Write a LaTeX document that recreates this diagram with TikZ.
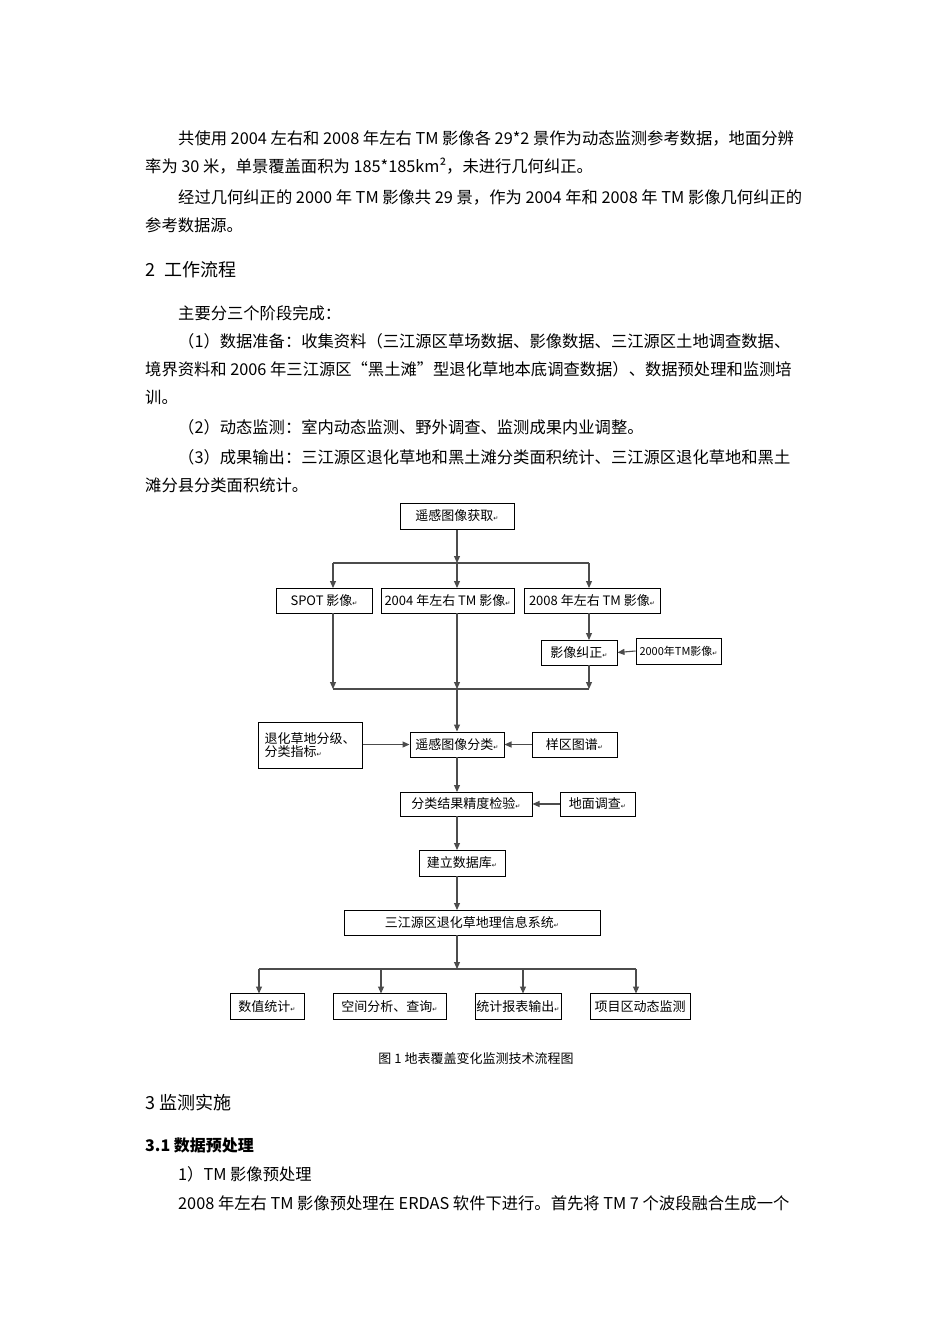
\documentclass[tikz,border=0pt]{standalone}
\usepackage{fontspec}
\setmainfont{Noto Sans CJK SC}
\newfontfamily\djfont{DejaVu Sans}
\usetikzlibrary{arrows.meta}
\newcommand{\rt}{{\djfont\fontsize{6}{6}\selectfont ↵}}
\begin{document}
\begin{tikzpicture}[x=1pt,y=-1pt,
  tl/.style={anchor=west,inner sep=0pt,font=\fontsize{16.3}{16.3}\selectfont},
  bx/.style={draw,line width=1pt,inner sep=0pt,font=\fontsize{13}{13}\selectfont},
  ln/.style={draw=black!70,line width=1.1pt},
  ar/.style={ln,-{Triangle[length=7pt,width=6pt]}}]
\useasboundingbox[fill=white] (0,0) rectangle (950,1344);
% body text
\node[tl] (t1) at (178,138) {共使用 2004 左右和 2008 年左右 TM 影像各 29*2 景作为动态监测参考数据，地面分辨};
\node[tl] (t2) at (145,166) {率为 30 米，单景覆盖面积为 185*185km²，未进行几何纠正。};
\node[tl] (t3) at (178,197) {经过几何纠正的 2000 年 TM 影像共 29 景，作为 2004 年和 2008 年 TM 影像几何纠正的};
\node[tl] (t4) at (145,225) {参考数据源。};
\node[tl,font=\fontsize{18}{18}\selectfont] (h2) at (145,270) {2\enspace 工作流程};
\node[tl] (t5) at (178,313) {主要分三个阶段完成：};
\node[tl] (t6) at (178,341) {（1）数据准备：收集资料（三江源区草场数据、影像数据、三江源区土地调查数据、};
\node[tl] (t7) at (145,369) {境界资料和 2006 年三江源区“黑土滩”型退化草地本底调查数据）、数据预处理和监测培};
\node[tl] (t8) at (145,397) {训。};
\node[tl] (t9) at (178,427) {（2）动态监测：室内动态监测、野外调查、监测成果内业调整。};
\node[tl] (t10) at (178,457) {（3）成果输出：三江源区退化草地和黑土滩分类面积统计、三江源区退化草地和黑土};
\node[tl] (t11) at (145,485) {滩分县分类面积统计。};
\node[anchor=center,font=\fontsize{13}{13}\selectfont] (cap) at (476,1059) {图 1 地表覆盖变化监测技术流程图};
\node[tl,font=\fontsize{18}{18}\selectfont] (h3) at (145,1103) {3 监测实施};
\node[tl,font=\bfseries\fontsize{16}{16}\selectfont] (h31) at (145,1145) {3.1 数据预处理};
\node[tl] (t12) at (178,1174) {1）TM 影像预处理};
\node[tl] (t13) at (178,1203) {2008 年左右 TM 影像预处理在 ERDAS 软件下进行。首先将 TM 7 个波段融合生成一个};
% flowchart boxes
\node[bx,minimum width=114,minimum height=26] (acq) at (457,516) {遥感图像获取\rt};
\node[bx,minimum width=96,minimum height=25] (spot) at (324,600.5) {SPOT 影像\rt};
\node[bx,minimum width=133,minimum height=25] (tm04) at (447.5,600.5) {2004 年左右 TM 影像\rt};
\node[bx,minimum width=136,minimum height=25] (tm08) at (592,600.5) {2008 年左右 TM 影像\rt};
\node[bx,minimum width=76,minimum height=25] (corr) at (579,652.5) {影像纠正\rt};
\node[bx,minimum width=85,minimum height=26,font=\fontsize{11}{11}\selectfont] (tm00) at (678.5,651) {2000年TM影像\rt};
\node[bx,minimum width=94,minimum height=25] (cls) at (457,744.5) {遥感图像分类\rt};
\node[bx,minimum width=104,minimum height=46,align=left,inner xsep=6pt] (idx) at (310,745) {退化草地分级、\\分类指标\rt};
\node[bx,minimum width=85,minimum height=25] (samp) at (574.5,744.5) {样区图谱\rt};
\node[bx,minimum width=132,minimum height=24] (chk) at (466,804) {分类结果精度检验\rt};
\node[bx,minimum width=75,minimum height=24] (grd) at (597.5,804) {地面调查\rt};
\node[bx,minimum width=86,minimum height=26] (db) at (462,863) {建立数据库\rt};
\node[bx,minimum width=256,minimum height=25] (gis) at (472,922.5) {三江源区退化草地理信息系统\rt};
\node[bx,minimum width=74,minimum height=26] (o1) at (267,1006.5) {数值统计\rt};
\node[bx,minimum width=113,minimum height=26] (o2) at (389.5,1006.5) {空间分析、查询\rt};
\node[bx,minimum width=86,minimum height=26] (o3) at (518,1006.5) {统计报表输出\rt};
\node[bx,minimum width=100,minimum height=26] (o4) at (640,1006.5) {项目区动态监测};
% coordinates
\coordinate (b1) at (457,563);
\coordinate (bl) at (333,563);
\coordinate (br) at (589,563);
\coordinate (m1) at (333,689);
\coordinate (m2) at (457,689);
\coordinate (m3) at (589,689);
\coordinate (gl) at (259,969);
\coordinate (gr) at (636,969);
% connectors
\draw[ar] (acq.south) -- (b1);
\draw[ln] (bl) -- (br);
\draw[ar] (bl) -- (333,588);
\draw[ar] (b1) -- (457,588);
\draw[ar] (br) -- (589,588);
\draw[ar] (589,613) -- (589,640);
\draw[ar] (tm00.west) -- (corr.east);
\draw[ar] (333,613) -- (m1);
\draw[ar] (457,613) -- (m2);
\draw[ar] (589,665) -- (m3);
\draw[ln] (m1) -- (m3);
\draw[ar] (m2) -- (cls.north);
\draw[ar] (idx.east |- cls) -- (cls.west);
\draw[ar] (samp.west) -- (cls.east);
\draw[ar] (457,757) -- (457,792);
\draw[ar] (grd.west) -- (chk.east);
\draw[ar] (457,816) -- (457,850);
\draw[ar] (457,876) -- (457,910);
\draw[ar] (457,935) -- (457,969);
\draw[ln] (gl) -- (gr);
\draw[ar] (gl) -- (259,993.5);
\draw[ar] (381,969) -- (381,993.5);
\draw[ar] (523,969) -- (523,993.5);
\draw[ar] (gr) -- (636,993.5);
\end{tikzpicture}
\end{document}
